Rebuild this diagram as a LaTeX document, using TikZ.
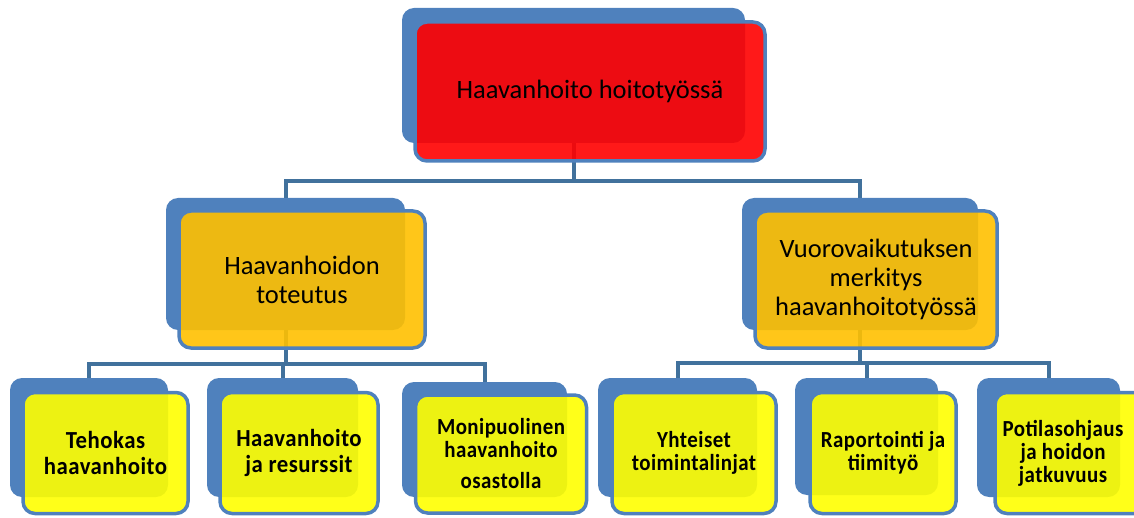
\documentclass[tikz,border=0pt]{standalone}
\usepackage{fontspec}
\setmainfont{Carlito}
\newfontfamily\narrowA[FakeStretch=0.91,LetterSpace=2]{Carlito}
\newfontfamily\narrowB[FakeStretch=0.93,LetterSpace=2]{Carlito}
\usetikzlibrary{backgrounds}
\definecolor{ofblue}{HTML}{4F81BD}
\definecolor{connblue}{HTML}{41719C}
\definecolor{boxred}{HTML}{FF0000}
\definecolor{boxorange}{HTML}{FFC000}
\definecolor{boxyellow}{HTML}{FFFF00}
\begin{document}
\begin{tikzpicture}[x=1pt,y=-1pt,
  backbox/.style={fill=ofblue, rounded corners=12pt, inner sep=0pt, minimum width=#1},
  frontbox/.style={draw=ofblue, line width=3.5pt, fill opacity=0.9, text opacity=1,
    rounded corners=12pt, inner sep=0pt, align=center, minimum width=#1},
  bigtext/.style={font=\fontsize{26.5}{29}\selectfont},
  smalltext/.style={font=\narrowA\bfseries\fontsize{23}{23}\selectfont},
  midtext/.style={font=\narrowB\bfseries\fontsize{24.5}{26}\selectfont},
  conn/.style={draw=connblue, line width=4pt}]
\useasboundingbox (0,0) rectangle (1134,518);
\clip (0,0) rectangle (1134,518);
% back boxes
\node[backbox=343pt, minimum height=135pt] (b0) at (573.5,75.5) {};
\node[backbox=239pt, minimum height=132pt] (bL) at (285.5,264) {};
\node[backbox=236pt, minimum height=132pt] (bR) at (860,264) {};
\node[backbox=158pt, minimum height=119pt] (bc1) at (89,437.5) {};
\node[backbox=151pt, minimum height=119pt] (bc2) at (282.5,437.5) {};
\node[backbox=165pt, minimum height=115pt] (bc3) at (484.5,439.5) {};
\node[backbox=159pt, minimum height=119pt] (bc4) at (677.5,437.5) {};
\node[backbox=143pt, minimum height=117pt] (bc5) at (866.5,436.5) {};
\node[backbox=143pt, minimum height=119pt] (bc6) at (1048.5,437.5) {};
% front boxes
\node[frontbox=350pt, minimum height=139pt, fill=boxred, bigtext] (f0) at (590,91.5) {Haavanhoito hoitotyössä};
\node[frontbox=246pt, minimum height=137pt, fill=boxorange, bigtext] (fL) at (302,279.5) {Haavanhoidon\\toteutus};
\node[frontbox=242pt, minimum height=137pt, fill=boxorange, bigtext] (fR) at (876,279.5) {Vuorovaikutuksen\\merkitys\\haavanhoitotyössä};
\node[frontbox=165pt, minimum height=121pt, fill=boxyellow, midtext] (fc1) at (105.5,453) {Tehokas\\haavanhoito};
\node[frontbox=158pt, minimum height=121pt, fill=boxyellow, midtext] (fc2) at (299,453) {Haavanhoito\\ja resurssit};
\node[frontbox=171pt, minimum height=118pt, fill=boxyellow, smalltext] (fc3) at (501,454) {Monipuolinen\\haavanhoito\\[8pt]osastolla};
\node[frontbox=164pt, minimum height=121pt, fill=boxyellow, smalltext] (fc4) at (694,453) {Yhteiset\\toimintalinjat};
\node[frontbox=146pt, minimum height=121pt, fill=boxyellow, smalltext] (fc5) at (883,453) {Raportointi ja\\tiimityö};
\node[frontbox=190pt, minimum height=121pt, fill=boxyellow,
  label={[name=t6, smalltext, align=center, xshift=-27pt]center:Potilasohjaus\\ja hoidon\\jatkuvuus}] (fc6) at (1090,453) {};
% connectors
\coordinate (bus0) at (0,181);
\coordinate (busL) at (0,364);
\coordinate (busR) at (0,363);
\begin{scope}[on background layer]
\draw[conn] (b0.center) -- (b0.center |- bus0);
\draw[conn] (bL.center) -- (bL.center |- bus0) -- (bR.center |- bus0) -- (bR.center);
\draw[conn] (bL.center) -- (bL.center |- busL);
\draw[conn] (bc1.center) -- (bc1.center |- busL) -- (bc3.center |- busL) -- (bc3.center);
\draw[conn] (bc2.center) -- (bc2.center |- busL);
\draw[conn] (bR.center) -- (bR.center |- busR);
\draw[conn] (bc4.center) -- (bc4.center |- busR) -- (bc6.center |- busR) -- (bc6.center);
\draw[conn] (bc5.center) -- (bc5.center |- busR);
\end{scope}
\end{tikzpicture}
\end{document}
